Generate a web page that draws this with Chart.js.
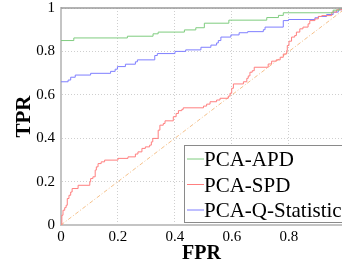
<!DOCTYPE html>
<html lang="pt-br">
<head>
<meta charset="UTF-8">
<title>ROC</title>
<script src="https://cdn.jsdelivr.net/npm/chart.js@4.4.0/dist/chart.umd.min.js"></script>
<style>
  body { margin: 0; background: #fff; overflow: hidden; }
  #caixa { width: 342px; height: 267px; }
</style>
</head>
<body>
<div id="caixa"><canvas id="roc"></canvas></div>
<script>
    // curvas ROC (FPR, TPR) - degraus
    var apdFpr = [0, 0.045, 0.233, 0.323, 0.341, 0.433, 0.473, 0.503, 0.589, 0.722, 0.763, 0.78, 0.955, 0.978, 0.986];
    var apdTpr = [0.85, 0.862, 0.870, 0.881, 0.889, 0.899, 0.909, 0.930, 0.944, 0.956, 0.966, 0.978, 0.99, 1.0, 1.0];

    var spdFpr = [0, 0.003, 0.007, 0.013, 0.018, 0.022, 0.028, 0.034, 0.039, 0.06, 0.101, 0.104, 0.112, 0.12, 0.124, 0.13, 0.141, 0.153,
        0.2, 0.235, 0.261, 0.27, 0.284, 0.296, 0.311, 0.317, 0.322, 0.341, 0.347, 0.359, 0.365, 0.394, 0.404, 0.412, 0.424, 0.429,
        0.5, 0.511, 0.523, 0.546, 0.558, 0.587, 0.593, 0.599, 0.605, 0.64, 0.652, 0.657, 0.663, 0.671, 0.678, 0.727, 0.739, 0.755,
        0.769, 0.78, 0.792, 0.794, 0.8, 0.809, 0.82, 0.826, 0.838, 0.849, 0.867, 0.873, 0.891, 0.903, 0.915, 0.95, 0.967, 0.986];
    var spdTpr = [0, 0.045, 0.068, 0.08, 0.091, 0.122, 0.137, 0.152, 0.168, 0.183, 0.199, 0.214, 0.222, 0.253, 0.268, 0.283, 0.291, 0.299,
        0.307, 0.314, 0.327, 0.337, 0.353, 0.36, 0.368, 0.383, 0.399, 0.437, 0.46, 0.468, 0.48, 0.499, 0.514, 0.527, 0.533, 0.54,
        0.548, 0.557, 0.568, 0.576, 0.584, 0.594, 0.607, 0.63, 0.65, 0.66, 0.676, 0.687, 0.704, 0.711, 0.727, 0.742, 0.755, 0.761,
        0.773, 0.788, 0.804, 0.827, 0.847, 0.866, 0.873, 0.889, 0.904, 0.912, 0.927, 0.942, 0.95, 0.961, 0.965, 0.981, 0.992, 1.0];

    var qFpr = [0, 0.025, 0.034, 0.05, 0.104, 0.174, 0.19, 0.198, 0.226, 0.261, 0.268, 0.329, 0.338, 0.4, 0.4375, 0.491, 0.526, 0.546,
        0.552, 0.561, 0.596, 0.625, 0.655, 0.71, 0.716, 0.78, 0.798, 0.891, 0.903, 0.932, 0.955, 0.973, 0.986];
    var qTpr = [0.66, 0.668, 0.681, 0.691, 0.699, 0.708, 0.718, 0.73, 0.741, 0.752, 0.761, 0.781, 0.79, 0.8, 0.807, 0.819, 0.829, 0.839,
        0.85, 0.866, 0.876, 0.886, 0.891, 0.9, 0.912, 0.942, 0.947, 0.955, 0.961, 0.97, 0.981, 0.992, 1.0];

    var diagFpr = [0, 1];
    var diagTpr = [0, 1];

    var rotulos = ['PCA-APD', 'PCA-SPD', 'PCA-Q-Statistic'];
    var cores = ['#7fcc7f', '#ff7f7f', '#7f7fff'];

    var xTickValores = [0, 0.2, 0.4, 0.6, 0.8];
    var xTickRotulos = ['0', '0.2', '0.4', '0.6', '0.8'];
    var yTickValores = [0, 0.2, 0.4, 0.6, 0.8, 1];
    var yTickRotulos = ['0', '0.2', '0.4', '0.6', '0.8', '1'];

    function pontos(xs, ys) {
        return xs.map(function (x, i) { return { x: x, y: ys[i] }; });
    }

    var fonteSerif = '"Liberation Serif", "Times New Roman", serif';

    // legenda dentro do grafico + borda de cima (estilo matlab)
    var legendaBox = {
        id: 'legendaBox',
        afterDatasetsDraw: function (chart) {
            var ctx = chart.ctx;
            var area = chart.chartArea;
            ctx.save();
            ctx.strokeStyle = '#9a9a9a';
            ctx.lineWidth = 1.5;
            ctx.beginPath();
            ctx.moveTo(area.left, area.top);
            ctx.lineTo(area.right, area.top);
            ctx.stroke();

            var bx = area.left + 123.5, by = area.top + 137.5;
            ctx.fillStyle = '#fff';
            ctx.fillRect(bx, by, 200, 77);
            ctx.strokeStyle = '#8a8a8a';
            ctx.lineWidth = 1;
            ctx.strokeRect(bx, by, 200, 77);

            ctx.font = '21px ' + fonteSerif;
            ctx.textBaseline = 'alphabetic';
            for (var i = 0; i < rotulos.length; i++) {
                var ly = by + 13.5 + i * 25.5;
                ctx.strokeStyle = cores[i];
                ctx.beginPath();
                ctx.moveTo(bx + 2.5, ly);
                ctx.lineTo(bx + 19.5, ly);
                ctx.stroke();
                ctx.fillStyle = '#000';
                ctx.fillText(rotulos[i], bx + 19.5, ly + 7);
            }
            ctx.restore();
        }
    };

    var ctx = document.getElementById('roc').getContext('2d');
    var grafico = new Chart(ctx, {
        type: 'line',
        data: {
            datasets: [
                { label: rotulos[0], data: pontos(apdFpr, apdTpr), borderColor: cores[0], stepped: true, order: 1 },
                { label: rotulos[1], data: pontos(spdFpr, spdTpr), borderColor: cores[1], stepped: true, order: 2 },
                { label: rotulos[2], data: pontos(qFpr, qTpr), borderColor: cores[2], stepped: true, order: 3 },
                { label: 'diag', data: pontos(diagFpr, diagTpr), borderColor: '#f5c08a', borderDash: [4, 2, 1, 2], order: 4 }
            ]
        },
        options: {
            responsive: true,
            maintainAspectRatio: false,
            animation: false,
            devicePixelRatio: 1,
            layout: { padding: { top: 8, right: 0, left: 0, bottom: 0 } },
            elements: {
                point: { radius: 0 },
                line: { borderWidth: 1, tension: 0 }
            },
            plugins: {
                legend: { display: false },
                tooltip: { enabled: false }
            },
            scales: {
                x: {
                    type: 'linear',
                    min: 0,
                    max: 0.986,
                    afterFit: function (s) { s.height = 42; s.paddingLeft = 0; s.paddingRight = 0; },
                    afterBuildTicks: function (s) { s.ticks = xTickValores.map(function (v) { return { value: v }; }); },
                    ticks: {
                        color: '#000',
                        padding: 3,
                        maxRotation: 0,
                        font: { family: fonteSerif, size: 15 },
                        callback: function (v, i) { return xTickRotulos[i]; }
                    },
                    grid: { color: '#cfcfcf', drawTicks: false },
                    border: { color: '#c4c4c4', width: 2, dash: [1, 2] },
                    title: {
                        display: true,
                        text: 'FPR',
                        color: '#000',
                        padding: { top: 0, bottom: 1 },
                        font: { family: fonteSerif, size: 20, weight: 'bold' }
                    }
                },
                y: {
                    type: 'linear',
                    min: 0,
                    max: 1,
                    afterFit: function (s) { s.width = 61; s.paddingTop = 0; s.paddingBottom = 0; },
                    afterBuildTicks: function (s) { s.ticks = yTickValores.map(function (v) { return { value: v }; }); },
                    ticks: {
                        color: '#000',
                        padding: 6,
                        font: { family: fonteSerif, size: 15 },
                        callback: function (v, i) { return yTickRotulos[i]; }
                    },
                    grid: { color: '#cfcfcf', drawTicks: false },
                    border: { color: '#c4c4c4', width: 2, dash: [1, 2] },
                    title: {
                        display: true,
                        text: 'TPR',
                        color: '#000',
                        padding: { top: 12, bottom: 0 },
                        font: { family: fonteSerif, size: 21, weight: 'bold' }
                    }
                }
            }
        },
        plugins: [legendaBox]
    });
</script>
</body>
</html>
